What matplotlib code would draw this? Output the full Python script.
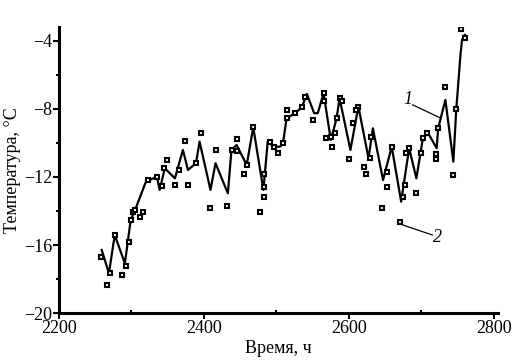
import matplotlib
matplotlib.use("Agg")
import matplotlib.pyplot as plt
from matplotlib.ticker import MultipleLocator

plt.rcParams["font.family"] = ["Liberation Serif", "DejaVu Serif"]
plt.rcParams["font.size"] = 13

# curve 1 (line), time in hours / temperature in degC
line_t = [2259, 2269, 2277, 2291, 2299, 2305, 2320, 2335, 2339, 2346, 2360,
          2371, 2378, 2389, 2394, 2409, 2416, 2433, 2438, 2445, 2459, 2468,
          2482, 2488, 2496, 2505, 2509, 2514, 2526, 2535, 2542, 2552, 2557,
          2565, 2575, 2583, 2587, 2602, 2613, 2627, 2633, 2647, 2659, 2672,
          2683, 2693, 2702, 2709, 2721, 2723, 2733, 2744, 2748, 2754, 2756,
          2760]
line_temp = [-16.29, -17.66, -15.41, -17.08, -14.53, -13.94, -12.28, -11.98,
             -12.76, -11.49, -12.08, -10.41, -11.59, -11.19, -9.92, -12.76,
             -11.19, -12.96, -10.41, -10.12, -11.29, -9.08, -12.76, -9.92,
             -10.22, -10.22, -10.02, -8.55, -8.25, -7.90, -7.12, -8.25, -8.25,
             -7.08, -9.82, -8.55, -7.37, -10.41, -7.86, -10.90, -9.14, -12.18,
             -10.22, -13.45, -10.31, -12.08, -9.72, -9.41, -10.31, -9.14,
             -7.47, -11.10, -8.02, -4.72, -3.94, -3.65]

# curve 2 (measured points)
pts_t = [2258, 2270, 2266, 2277, 2293, 2287, 2297, 2299, 2302, 2305, 2312,
         2316, 2323, 2335, 2342, 2345, 2349, 2360, 2366, 2374, 2378, 2389,
         2396, 2408, 2416, 2432, 2439, 2445, 2446, 2459, 2455, 2468, 2483,
         2483, 2483, 2478, 2491, 2497, 2502, 2509, 2514, 2515, 2526, 2535,
         2539, 2551, 2565, 2565, 2569, 2575, 2576, 2581, 2583, 2587, 2590,
         2600, 2606, 2613, 2610, 2621, 2624, 2629, 2631, 2652, 2653, 2646,
         2659, 2675, 2677, 2692, 2670, 2683, 2679, 2700, 2702, 2707, 2720,
         2720, 2723, 2732, 2744, 2748, 2754, 2760]
pts_temp = [-16.69, -17.65, -18.35, -15.41, -17.24, -17.76, -15.81, -14.53,
            -14.04, -13.94, -14.37, -14.04, -12.18, -11.98, -12.53, -11.49,
            -11.00, -12.47, -11.59, -9.88, -12.47, -11.19, -9.43, -13.82,
            -10.41, -13.72, -10.41, -9.78, -10.45, -11.29, -11.84, -9.08,
            -11.84, -12.61, -13.16, -14.08, -9.92, -10.22, -10.57, -10.02,
            -8.55, -8.06, -8.25, -7.90, -7.28, -8.65, -7.08, -7.51, -9.72,
            -9.63, -10.22, -9.43, -8.55, -7.37, -7.51, -10.96, -8.84, -7.86,
            -8.06, -11.39, -11.82, -10.90, -9.63, -11.69, -12.57, -13.84,
            -10.22, -13.16, -12.47, -12.96, -14.63, -10.31, -10.61, -10.61,
            -9.72, -9.43, -10.65, -10.94, -9.14, -6.69, -11.88, -8.02, -3.31,
            -3.84]

fig = plt.figure(figsize=(5.26, 3.64), dpi=100)
ax = fig.add_axes([0.112, 0.140, 0.834, 0.785])

ax.plot(line_t, line_temp, color="black", lw=1.6, zorder=2)
ax.plot(pts_t, pts_temp, ls="none", marker="s", ms=3.4, mfc="white",
        mec="black", mew=1.5, zorder=3)

ax.set_xlim(2200, 2805)
ax.set_ylim(-20, -3.2)
ax.xaxis.set_major_locator(MultipleLocator(200))
ax.xaxis.set_minor_locator(MultipleLocator(100))
ax.yaxis.set_major_locator(MultipleLocator(4))
ax.yaxis.set_minor_locator(MultipleLocator(2))

for side in ("top", "right"):
    ax.spines[side].set_visible(False)
for side in ("left", "bottom"):
    ax.spines[side].set_linewidth(2.2)

ax.tick_params(which="major", direction="out", length=4, width=1.5, pad=1)
ax.tick_params(which="minor", direction="out", length=2, width=1.5)
ax.tick_params(axis="x", which="minor", direction="in")

ax.set_xlabel("Время, ч", labelpad=2)
ax.set_ylabel("Температура, °С", labelpad=2)

# curve labels
ax.text(2681, -7.47, "1", style="italic", ha="center", va="center")
ax.plot([2688, 2727], [-7.76, -8.55], color="black", lw=0.9)
ax.text(2722, -15.55, "2", style="italic", ha="center", va="center")
ax.plot([2674, 2715], [-14.82, -15.41], color="black", lw=0.9)

fig.savefig("out.png", dpi=100)
